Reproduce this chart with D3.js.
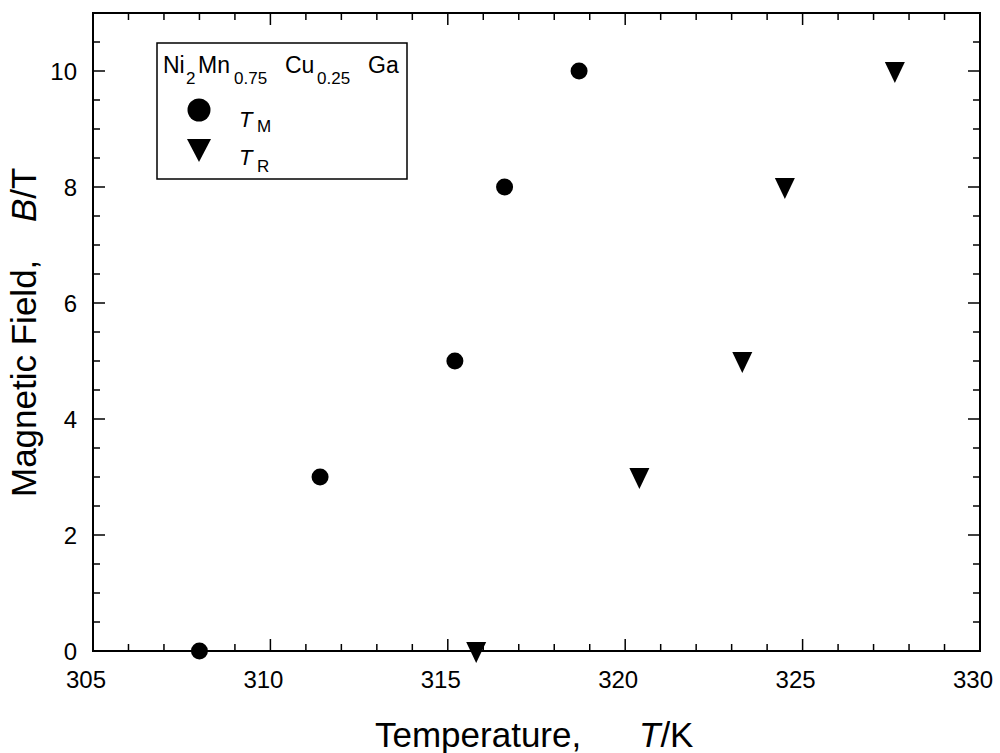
<!DOCTYPE html>
<html>
<head>
<meta charset="utf-8">
<script src="https://cdn.jsdelivr.net/npm/d3@7"></script>
<style>
  body { margin: 0; background: #fff; }
  svg { font-family: "Liberation Sans", Arial, sans-serif; }
</style>
</head>
<body>
<div id="chart"></div>
<script>
'use strict'

// T_M (circles) and T_R (triangles), field B in tesla
var tmTemp = [308.0, 311.4, 315.2, 316.6, 318.7];
var tmField = [0, 3, 5, 8, 10];
var trTemp = [315.8, 320.4, 323.3, 324.5, 327.6];
var trField = [0, 3, 5, 8, 10];

var xTicks = [305, 310, 315, 320, 325, 330];
var yTicks = [0, 2, 4, 6, 8, 10];

var WIDTH = 1000, HEIGHT = 753;
var LEFT = 93, RIGHT = 980, TOP = 13, BOTTOM = 651;

var svg = d3.select('#chart').append('svg')
  .attr('width', WIDTH).attr('height', HEIGHT);

var x = d3.scaleLinear().domain([305, 330]).range([LEFT, RIGHT]);
var y = d3.scaleLinear().domain([0, 11]).range([BOTTOM, TOP]);

// minor / major ticks on all four sides, pointing inward
var xMinor = d3.range(305, 331, 1);
var yMinor = d3.range(0, 11.01, 0.5);

function tickLen(v, step) { return Math.abs(v / step - Math.round(v / step)) < 1e-6 ? 12 : 7; }

var g = svg.append('g').attr('stroke', '#000').attr('stroke-width', 1.5);

xMinor.forEach(function (v) {
  var L = tickLen(v, 5);
  g.append('line').attr('x1', x(v)).attr('x2', x(v)).attr('y1', BOTTOM).attr('y2', BOTTOM - L);
  g.append('line').attr('x1', x(v)).attr('x2', x(v)).attr('y1', TOP).attr('y2', TOP + L);
});
yMinor.forEach(function (v) {
  var L = tickLen(v, 2);
  g.append('line').attr('x1', LEFT).attr('x2', LEFT + L).attr('y1', y(v)).attr('y2', y(v));
  g.append('line').attr('x1', RIGHT).attr('x2', RIGHT - L).attr('y1', y(v)).attr('y2', y(v));
});

svg.append('rect')
  .attr('x', LEFT).attr('y', TOP)
  .attr('width', RIGHT - LEFT).attr('height', BOTTOM - TOP)
  .attr('fill', 'none').attr('stroke', '#000').attr('stroke-width', 2);

// tick labels
svg.selectAll('text.xt').data(xTicks).enter().append('text')
  .attr('class', 'xt')
  .attr('x', function (d) { return x(d) - 7; })
  .attr('y', 688)
  .attr('text-anchor', 'middle')
  .attr('font-size', '24px')
  .text(function (d) { return d; });

svg.selectAll('text.yt').data(yTicks).enter().append('text')
  .attr('class', 'yt')
  .attr('x', 77)
  .attr('y', function (d) { return y(d) + 9; })
  .attr('text-anchor', 'end')
  .attr('font-size', '24px')
  .text(function (d) { return d; });

// axis titles
var xt = svg.append('text').attr('x', 375).attr('y', 747).attr('font-size', '35px');
xt.append('tspan').text('Temperature,');
xt.append('tspan').attr('x', 639).attr('font-style', 'italic').text('T');
xt.append('tspan').text('/K');

var yt = svg.append('text')
  .attr('transform', 'translate(36,497) rotate(-90)')
  .attr('font-size', '35px');
yt.append('tspan').text('Magnetic Field,');
yt.append('tspan').attr('x', 275).attr('font-style', 'italic').text('B');
yt.append('tspan').text('/T');

// data points
var tm = d3.zip(tmTemp, tmField);
var tr = d3.zip(trTemp, trField);

svg.selectAll('circle.tm').data(tm).enter().append('circle')
  .attr('class', 'tm')
  .attr('cx', function (d) { return x(d[0]); })
  .attr('cy', function (d) { return y(d[1]); })
  .attr('r', 8.5)
  .attr('fill', '#000');

var tri = 'M-10,-9L10,-9L0,12Z';
svg.selectAll('path.tr').data(tr).enter().append('path')
  .attr('class', 'tr')
  .attr('d', tri)
  .attr('transform', function (d) { return 'translate(' + x(d[0]) + ',' + y(d[1]) + ')'; })
  .attr('fill', '#000');

// legend
svg.append('rect')
  .attr('x', 157).attr('y', 43).attr('width', 250).attr('height', 136)
  .attr('fill', '#fff').attr('stroke', '#000').attr('stroke-width', 1.5);

var lt = svg.append('text').attr('y', 73).attr('font-size', '23px');
lt.append('tspan').attr('x', 163).text('Ni');
lt.append('tspan').attr('x', 186).attr('font-size', '17px').attr('dy', 11).text('2');
lt.append('tspan').attr('x', 198).attr('dy', -11).text('Mn');
lt.append('tspan').attr('x', 234).attr('font-size', '17px').attr('dy', 11).text('0.75');
lt.append('tspan').attr('x', 285).attr('dy', -11).text('Cu');
lt.append('tspan').attr('x', 317).attr('font-size', '17px').attr('dy', 11).text('0.25');
lt.append('tspan').attr('x', 368).attr('dy', -11).text('Ga');

svg.append('circle').attr('cx', 199).attr('cy', 110).attr('r', 11.5).attr('fill', '#000');
svg.append('path').attr('d', 'M-12,-11L12,-11L0,12Z')
  .attr('transform', 'translate(199,150)').attr('fill', '#000');

var legendItems = [['T', 'M', 127, 132], ['T', 'R', 165, 172]];
legendItems.forEach(function (it) {
  var t = svg.append('text').attr('y', it[2]).attr('font-size', '22px');
  t.append('tspan').attr('x', 239).attr('font-style', 'italic').text(it[0]);
  t.append('tspan').attr('x', 257).attr('font-size', '17px').attr('y', it[3]).text(it[1]);
});
</script>
</body>
</html>
